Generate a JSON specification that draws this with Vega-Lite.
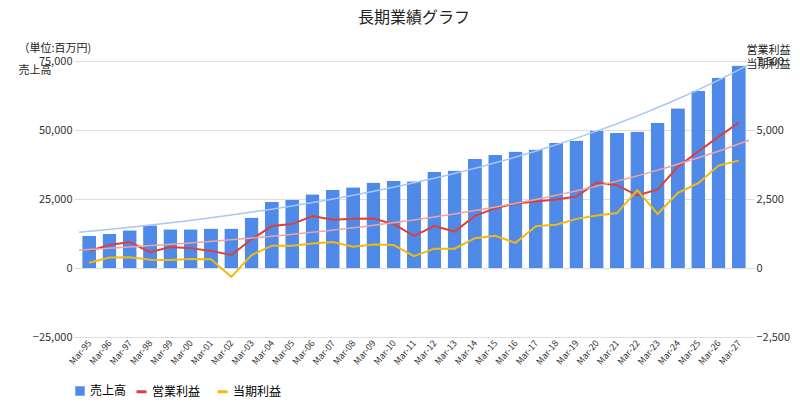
{
  "$schema": "https://vega.github.io/schema/vega-lite/v6.json",
  "width": 800,
  "height": 412,
  "autosize": {"type": "fit", "contains": "padding"},
  "padding": {"left": 18, "right": 10, "top": 10, "bottom": 14},
  "background": "white",
  "title": {"text": "長期業績グラフ", "fontSize": 16, "font": "Noto Sans CJK JP", "fontWeight": "normal", "color": "#222", "offset": 16},
  "data": {"values": [
    {"i": 0, "期": "Mar-95", "売上高": 11700, "営業利益": 620, "当期利益": 190},
    {"i": 1, "期": "Mar-96", "売上高": 12300, "営業利益": 830, "当期利益": 380},
    {"i": 2, "期": "Mar-97", "売上高": 13700, "営業利益": 940, "当期利益": 390},
    {"i": 3, "期": "Mar-98", "売上高": 15500, "営業利益": 570, "当期利益": 300},
    {"i": 4, "期": "Mar-99", "売上高": 14000, "営業利益": 760, "当期利益": 290},
    {"i": 5, "期": "Mar-00", "売上高": 14000, "営業利益": 720, "当期利益": 330},
    {"i": 6, "期": "Mar-01", "売上高": 14300, "営業利益": 620, "当期利益": 320},
    {"i": 7, "期": "Mar-02", "売上高": 14300, "営業利益": 470, "当期利益": -320},
    {"i": 8, "期": "Mar-03", "売上高": 18300, "営業利益": 1040, "当期利益": 470},
    {"i": 9, "期": "Mar-04", "売上高": 24000, "営業利益": 1520, "当期利益": 810},
    {"i": 10, "期": "Mar-05", "売上高": 24600, "営業利益": 1590, "当期利益": 810},
    {"i": 11, "期": "Mar-06", "売上高": 26700, "営業利益": 1880, "当期利益": 890},
    {"i": 12, "期": "Mar-07", "売上高": 28300, "営業利益": 1750, "当期利益": 940},
    {"i": 13, "期": "Mar-08", "売上高": 29300, "営業利益": 1780, "当期利益": 770},
    {"i": 14, "期": "Mar-09", "売上高": 31000, "営業利益": 1790, "当期利益": 850},
    {"i": 15, "期": "Mar-10", "売上高": 31600, "営業利益": 1590, "当期利益": 830},
    {"i": 16, "期": "Mar-11", "売上高": 31400, "営業利益": 1160, "当期利益": 430},
    {"i": 17, "期": "Mar-12", "売上高": 34900, "営業利益": 1520, "当期利益": 700},
    {"i": 18, "期": "Mar-13", "売上高": 35300, "営業利益": 1320, "当期利益": 700},
    {"i": 19, "期": "Mar-14", "売上高": 39500, "営業利益": 1890, "当期利益": 1080},
    {"i": 20, "期": "Mar-15", "売上高": 40900, "営業利益": 2160, "当期利益": 1170},
    {"i": 21, "期": "Mar-16", "売上高": 42200, "営業利益": 2340, "当期利益": 910},
    {"i": 22, "期": "Mar-17", "売上高": 42900, "営業利益": 2410, "当期利益": 1510},
    {"i": 23, "期": "Mar-18", "売上高": 45300, "営業利益": 2480, "当期利益": 1570},
    {"i": 24, "期": "Mar-19", "売上高": 46200, "営業利益": 2590, "当期利益": 1780},
    {"i": 25, "期": "Mar-20", "売上高": 49700, "営業利益": 3100, "当期利益": 1900},
    {"i": 26, "期": "Mar-21", "売上高": 48900, "営業利益": 3000, "当期利益": 1990},
    {"i": 27, "期": "Mar-22", "売上高": 49500, "営業利益": 2630, "当期利益": 2820},
    {"i": 28, "期": "Mar-23", "売上高": 52600, "営業利益": 2850, "当期利益": 1960},
    {"i": 29, "期": "Mar-24", "売上高": 57900, "営業利益": 3670, "当期利益": 2720},
    {"i": 30, "期": "Mar-25", "売上高": 64100, "営業利益": 4220, "当期利益": 3070},
    {"i": 31, "期": "Mar-26", "売上高": 68800, "営業利益": 4750, "当期利益": 3710},
    {"i": 32, "期": "Mar-27", "売上高": 73400, "営業利益": 5270, "当期利益": 3890}
  ]},
  "encoding": {
    "x": {
      "field": "i", "type": "quantitative",
      "scale": {"domain": [-0.5, 32.5], "nice": false, "zero": false},
      "axis": {
        "title": null, "grid": false, "domain": false, "ticks": false, "labelOverlap": false, "labelFlush": false,
        "values": [0,1,2,3,4,5,6,7,8,9,10,11,12,13,14,15,16,17,18,19,20,21,22,23,24,25,26,27,28,29,30,31,32],
        "labelExpr": "['Mar-95','Mar-96','Mar-97','Mar-98','Mar-99','Mar-00','Mar-01','Mar-02','Mar-03','Mar-04','Mar-05','Mar-06','Mar-07','Mar-08','Mar-09','Mar-10','Mar-11','Mar-12','Mar-13','Mar-14','Mar-15','Mar-16','Mar-17','Mar-18','Mar-19','Mar-20','Mar-21','Mar-22','Mar-23','Mar-24','Mar-25','Mar-26','Mar-27'][datum.value]",
        "labelAngle": -50, "labelAlign": "right", "labelBaseline": "middle", "labelFontSize": 9, "labelColor": "#333", "labelPadding": 4
      }
    }
  },
  "layer": [
    {
      "layer": [
        {
          "mark": {"type": "bar", "size": 14, "cornerRadiusTopLeft": 1, "cornerRadiusTopRight": 1},
          "encoding": {
            "y": {
              "field": "売上高", "type": "quantitative",
              "scale": {"domain": [-25000, 75000], "nice": false},
              "axis": {
                "values": [-25000, 0, 25000, 50000, 75000], "labelExpr": "format(datum.value, ',')", "domain": false, "ticks": false,
                "gridColor": "#dddddd", "labelColor": "#333", "labelFontSize": 11,
                "title": ["（単位:百万円)", "売上高"], "titleAngle": 0, "titleAlign": "left", "titleBaseline": "bottom", "titleLineHeight": 22,
                "titleX": -56, "titleY": -8, "titleFontWeight": "normal", "titleFontSize": 11, "titleColor": "#222"
              }
            },
            "color": {
              "datum": "売上高", "type": "nominal",
              "scale": {"domain": ["売上高"], "range": ["#4f8ae8"]},
              "legend": {"title": null, "orient": "bottom", "symbolType": "square", "labelFontSize": 12, "symbolSize": 90}
            }
          }
        },
        {
          "transform": [{"regression": "売上高", "on": "i", "method": "exp", "extent": [-0.5, 32.5]}],
          "mark": {"type": "line", "color": "#a9c7f3", "strokeWidth": 1.5},
          "encoding": {"y": {"field": "売上高", "type": "quantitative"}}
        },
        {
          "mark": {"type": "rule", "color": "#666", "strokeWidth": 1},
          "encoding": {"y": {"datum": 0, "type": "quantitative"}}
        }
      ]
    },
    {
      "transform": [{"fold": ["営業利益", "当期利益"], "as": ["系列", "値"]}],
      "layer": [
        {
          "mark": {"type": "line", "strokeWidth": 2},
          "encoding": {
            "y": {
              "field": "値", "type": "quantitative",
              "scale": {"domain": [-2500, 7500], "nice": false},
              "axis": {
                "orient": "right", "values": [-2500, 0, 2500, 5000, 7500], "labelExpr": "format(datum.value, ',')", "grid": false, "domain": false, "ticks": false,
                "labelColor": "#333", "labelFontSize": 11,
                "title": ["営業利益", "当期利益"], "titleAngle": 0, "titleAlign": "left", "titleBaseline": "bottom", "titleLineHeight": 14,
                "titleX": -8, "titleY": -6, "titleFontWeight": "normal", "titleFontSize": 11, "titleColor": "#222"
              }
            },
            "color": {
              "field": "系列", "type": "nominal",
              "scale": {"domain": ["営業利益", "当期利益"], "range": ["#d9413a", "#f2b90f"]},
              "legend": {"title": null, "orient": "bottom", "symbolType": "stroke", "symbolStrokeWidth": 3, "labelFontSize": 12}
            }
          }
        },
        {
          "transform": [{"filter": "datum['系列'] === '営業利益'"}, {"regression": "値", "on": "i", "method": "exp", "extent": [-0.5, 32.5]}],
          "mark": {"type": "line", "strokeWidth": 1.5, "color": "#f1a3a0"},
          "encoding": {"y": {"field": "値", "type": "quantitative"}}
        },
        {
          "transform": [{"filter": "datum['系列'] === '当期利益'"}, {"regression": "値", "on": "i", "method": "exp", "extent": [-0.5, 32.5]}],
          "mark": {"type": "line", "strokeWidth": 1.5, "color": "#f8dd8f"},
          "encoding": {"y": {"field": "値", "type": "quantitative"}}
        }
      ]
    }
  ],
  "resolve": {"scale": {"y": "independent", "color": "independent"}},
  "config": {
    "font": "Noto Sans CJK JP",
    "view": {"stroke": null},
    "legend": {"direction": "horizontal"}
  }
}
